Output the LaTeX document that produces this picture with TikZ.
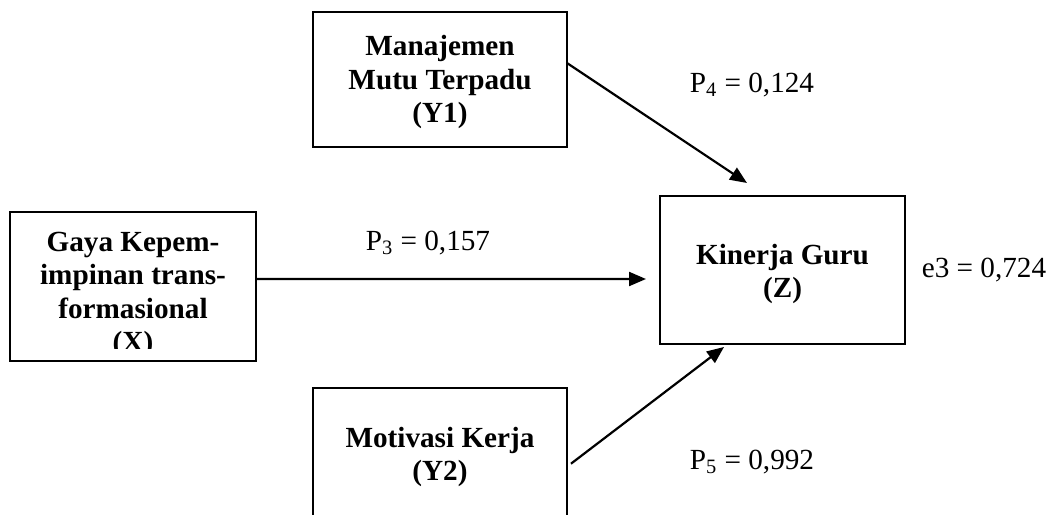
\documentclass[tikz,border=0pt]{standalone}
\usepackage{fontspec}
\setmainfont{Liberation Serif}
\usetikzlibrary{arrows.meta,calc}
\begin{document}
\begin{tikzpicture}[x=0.5pt,y=-0.5pt,
  box/.style={draw,line width=1.2pt,inner sep=0pt,outer sep=0pt},
  lbl/.style={font=\fontsize{14.6}{16.8}\selectfont\bfseries,align=center,inner sep=0pt},
  val/.style={font=\fontsize{14.6}{16.8}\selectfont,inner sep=0pt},
  conn/.style={line width=1.1pt,-{Triangle[length=8.5pt,width=7pt]}}]
\useasboundingbox (0,0) rectangle (1048,514);
\clip (0,0) rectangle (1048,514);
% boxes
\node[box,minimum width=127pt,minimum height=67.5pt] (Y1) at (440,79.5) {};
\node[box,minimum width=123pt,minimum height=74.5pt] (X) at (133,286.5) {};
\node[box,minimum width=122.5pt,minimum height=74pt] (Z) at (782.5,270) {};
\node[box,minimum width=127pt,minimum height=86pt] (Y2) at (440,474) {};
% texts
\node[lbl] (tY1) at (440,82) {Manajemen\\Mutu Terpadu\\(Y1)};
\begin{scope}
\clip (10,212) rectangle (256,348);
\node[lbl] (tX) at (133,295) {Gaya Kepem-\\impinan trans-\\formasional\\(X)};
\end{scope}
\node[lbl] (tZ) at (782.5,274) {Kinerja Guru\\(Z)};
\node[lbl] (tY2) at (440,457) {Motivasi Kerja\\(Y2)};
% values
\node[val] (p4) at (752,85) {P\textsubscript{4} = 0,124};
\node[val] (p3) at (428,243) {P\textsubscript{3} = 0,157};
\node[val] (e3) at (984,270) {e3 = 0,724};
\node[val] (p5) at (752,462) {P\textsubscript{5} = 0,992};
% connector ends
\coordinate (t1) at (747,183);
\coordinate (t2) at (646,279);
\coordinate (t3) at (724,347);
\draw[conn] ($(Y1.north east)!0.378!(Y1.south east)$) -- (t1);
\draw[conn] ($(X.north east)!0.45!(X.south east)$) -- (t2);
\draw[conn] ($(Y2.north west)!0.44!(Y2.south west)+(258,0)$) -- (t3);
\end{tikzpicture}
\end{document}
